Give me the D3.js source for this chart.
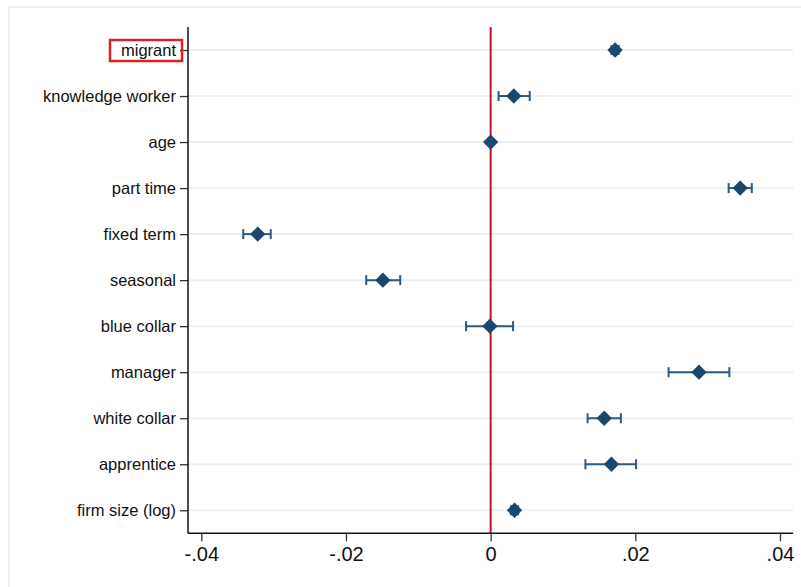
<!DOCTYPE html>
<html>
<head>
<meta charset="utf-8">
<script src="https://cdn.jsdelivr.net/npm/d3@7"></script>
<style>
  body { margin: 0; background: #fff; }
  svg { display: block; font-family: "Liberation Sans", Arial, sans-serif; }
</style>
</head>
<body>
<div id="chart"></div>
<script>
// coefficient plot data
const labels = ['migrant', 'knowledge worker', 'age', 'part time', 'fixed term', 'seasonal',
                'blue collar', 'manager', 'white collar', 'apprentice', 'firm size (log)']
const coef  = [0.0172, 0.0032, 0.0000, 0.0345, -0.0322, -0.0149, -0.0001, 0.0288, 0.0157, 0.0167, 0.0033]
const lower = [0.0167, 0.0011, -0.0001, 0.0329, -0.0342, -0.0172, -0.0034, 0.0246, 0.0134, 0.0131, 0.0028]
const upper = [0.0177, 0.0054, 0.0001, 0.0361, -0.0304, -0.0125, 0.0031, 0.0330, 0.0180, 0.0201, 0.0038]
const xTicks = [-0.04, -0.02, 0, 0.02, 0.04]
const xTickLabels = ['-.04', '-.02', '0', '.02', '.04']
const boxed = 'migrant'

const W = 801, H = 587
const navy = '#1a476f'

const svg = d3.select('#chart').append('svg')
    .attr('width', W)
    .attr('height', H)

// outer graph frame
svg.append('rect')
    .attr('x', 9).attr('y', 7)
    .attr('width', 820).attr('height', 620)
    .attr('fill', 'none')
    .attr('stroke', '#eaf0f3')
    .attr('stroke-width', 2)

const plot = { left: 188, right: 793, top: 27, bottom: 533.3 }

const x = d3.scaleLinear()
    .domain([-0.04, 0.04])
    .range([201.3, 780])

const y = d3.scalePoint()
    .domain(labels)
    .range([plot.top, plot.bottom])
    .padding(0.5)

const rows = labels.map((d, i) => ({ label: d, b: coef[i], lo: lower[i], hi: upper[i] }))

// gridlines
svg.append('g')
    .selectAll('line')
    .data(labels)
    .enter()
    .append('line')
    .attr('x1', plot.left).attr('x2', plot.right)
    .attr('y1', d => y(d)).attr('y2', d => y(d))
    .attr('stroke', '#eaf0f3')
    .attr('stroke-width', 2)

// zero line
svg.append('line')
    .attr('x1', x(0)).attr('x2', x(0))
    .attr('y1', plot.top).attr('y2', plot.bottom)
    .attr('stroke', '#c8102e')
    .attr('stroke-width', 2)

// y axis
const yAxis = svg.append('g')
    .attr('transform', 'translate(' + plot.left + ',0)')
    .call(d3.axisLeft(y).tickSize(8).tickPadding(4))
yAxis.select('.domain').remove()
yAxis.selectAll('.tick line').attr('stroke', '#333').attr('stroke-width', 1.3)
yAxis.selectAll('.tick text')
    .attr('font-size', 16.5)
    .attr('font-family', '"Liberation Sans", Arial, sans-serif')
    .attr('fill', '#111')
svg.append('line')
    .attr('x1', plot.left).attr('x2', plot.left)
    .attr('y1', plot.top).attr('y2', plot.bottom)
    .attr('stroke', '#111').attr('stroke-width', 1.5)

// x axis
const xAxis = svg.append('g')
    .attr('transform', 'translate(0,' + plot.bottom + ')')
    .call(d3.axisBottom(x).tickValues(xTicks)
        .tickFormat((d, i) => xTickLabels[i])
        .tickSize(8).tickPadding(6))
xAxis.select('.domain').remove()
xAxis.selectAll('.tick line').attr('stroke', '#333').attr('stroke-width', 1.3)
xAxis.selectAll('.tick text')
    .attr('font-size', 20)
    .attr('font-family', '"Liberation Sans", Arial, sans-serif')
    .attr('fill', '#111')
svg.append('line')
    .attr('x1', plot.left).attr('x2', plot.right)
    .attr('y1', plot.bottom).attr('y2', plot.bottom)
    .attr('stroke', '#111').attr('stroke-width', 1.5)

// confidence intervals
const ci = svg.append('g')
    .selectAll('g')
    .data(rows)
    .enter()
    .append('g')
    .attr('stroke', '#2b5a82')
    .attr('stroke-width', 2)

ci.append('line')
    .attr('x1', d => x(d.lo)).attr('x2', d => x(d.hi))
    .attr('y1', d => y(d.label)).attr('y2', d => y(d.label))
ci.append('line')
    .attr('x1', d => x(d.lo)).attr('x2', d => x(d.lo))
    .attr('y1', d => y(d.label) - 5).attr('y2', d => y(d.label) + 5)
ci.append('line')
    .attr('x1', d => x(d.hi)).attr('x2', d => x(d.hi))
    .attr('y1', d => y(d.label) - 5).attr('y2', d => y(d.label) + 5)

// point estimates (diamonds)
svg.append('g')
    .selectAll('path')
    .data(rows)
    .enter()
    .append('path')
    .attr('d', d3.symbol().type(d3.symbolDiamond2).size(150))
    .attr('transform', d => 'translate(' + x(d.b) + ',' + y(d.label) + ')')
    .attr('fill', navy)

// red box around the highlighted label
svg.append('rect')
    .attr('x', plot.left - 78).attr('y', y(boxed) - 10)
    .attr('width', 72).attr('height', 21)
    .attr('fill', 'none')
    .attr('stroke', '#e0201e')
    .attr('stroke-width', 2.5)
</script>
</body>
</html>
